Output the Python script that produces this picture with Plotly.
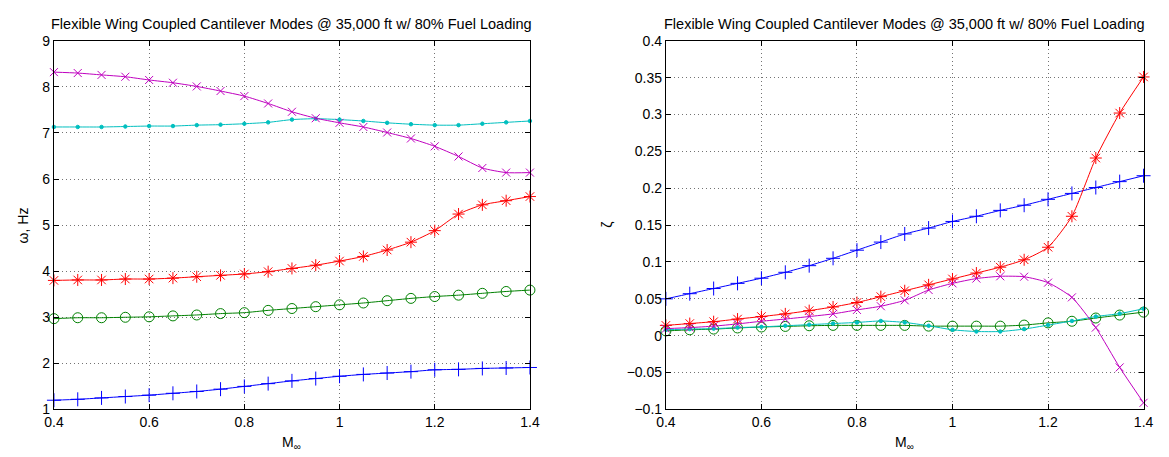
import plotly.graph_objects as go

# Mach numbers
mach = [0.40, 0.45, 0.50, 0.55, 0.60, 0.65, 0.70, 0.75, 0.80, 0.85, 0.90,
        0.95, 1.00, 1.05, 1.10, 1.15, 1.20, 1.25, 1.30, 1.35, 1.40]

# Modal frequencies, Hz
freq_mode1 = [1.20, 1.22, 1.25, 1.28, 1.31, 1.35, 1.39, 1.44, 1.50, 1.56, 1.62,
              1.67, 1.72, 1.76, 1.79, 1.82, 1.86, 1.87, 1.89, 1.90, 1.91]
freq_mode2 = [2.97, 2.99, 2.99, 3.00, 3.01, 3.03, 3.05, 3.08, 3.10, 3.15, 3.19,
              3.23, 3.27, 3.31, 3.36, 3.41, 3.45, 3.48, 3.52, 3.56, 3.59]
freq_mode3 = [3.80, 3.81, 3.81, 3.83, 3.83, 3.85, 3.88, 3.91, 3.94, 3.99, 4.06,
              4.13, 4.22, 4.32, 4.46, 4.63, 4.88, 5.24, 5.44, 5.53, 5.62]
freq_mode4 = [7.13, 7.13, 7.13, 7.14, 7.15, 7.15, 7.17, 7.18, 7.20, 7.23, 7.29,
              7.31, 7.29, 7.26, 7.22, 7.19, 7.17, 7.17, 7.20, 7.23, 7.26]
freq_mode5 = [8.32, 8.30, 8.26, 8.22, 8.15, 8.09, 8.01, 7.91, 7.80, 7.64, 7.46,
              7.32, 7.22, 7.13, 7.01, 6.88, 6.71, 6.49, 6.24, 6.14, 6.14]

# Modal damping ratios
damp_mode1 = [0.050, 0.057, 0.064, 0.071, 0.078, 0.086, 0.095, 0.105, 0.116, 0.127, 0.138,
              0.146, 0.155, 0.162, 0.170, 0.177, 0.185, 0.193, 0.201, 0.209, 0.217]
damp_mode2 = [0.0065, 0.008, 0.009, 0.0105, 0.0118, 0.0126, 0.0135, 0.014, 0.014, 0.014, 0.014,
              0.013, 0.013, 0.013, 0.013, 0.0144, 0.0174, 0.0196, 0.024, 0.028, 0.032]
damp_mode3 = [0.014, 0.0165, 0.019, 0.0226, 0.026, 0.0296, 0.034, 0.039, 0.045, 0.053, 0.061,
              0.069, 0.077, 0.085, 0.093, 0.103, 0.120, 0.162, 0.241, 0.302, 0.351]
damp_mode4 = [0.008, 0.009, 0.0096, 0.011, 0.012, 0.0135, 0.015, 0.0165, 0.018, 0.020, 0.018,
              0.0135, 0.008, 0.0057, 0.0057, 0.009, 0.0144, 0.020, 0.026, 0.030, 0.0366]
damp_mode5 = [0.0096, 0.011, 0.013, 0.016, 0.0196, 0.0226, 0.026, 0.0296, 0.035, 0.040, 0.048,
              0.062, 0.071, 0.0775, 0.0806, 0.080, 0.072, 0.052, 0.011, -0.043, -0.091]

x_tickvals = [0.4, 0.6, 0.8, 1.0, 1.2, 1.4]
x_ticktext = ["0.4", "0.6", "0.8", "1", "1.2", "1.4"]
freq_tickvals = [1, 2, 3, 4, 5, 6, 7, 8, 9]
freq_ticktext = ["1", "2", "3", "4", "5", "6", "7", "8", "9"]
damp_tickvals = [-0.1, -0.05, 0, 0.05, 0.1, 0.15, 0.2, 0.25, 0.3, 0.35, 0.4]
damp_ticktext = ["\u22120.1", "\u22120.05", "0", "0.05", "0.1", "0.15", "0.2",
                 "0.25", "0.3", "0.35", "0.4"]

title_text = "Flexible Wing Coupled Cantilever Modes @ 35,000 ft w/ 80% Fuel Loading"

# MATLAB-style line colours and markers
styles = [
    dict(color="#0000FF", symbol="cross-thin-open", size=10),
    dict(color="#008000", symbol="circle-open", size=10),
    dict(color="#FF0000", symbol="asterisk-open", size=10),
    dict(color="#00BFBF", symbol="circle", size=3.5),
    dict(color="#BF00BF", symbol="x-thin-open", size=8),
]

freq_series = [freq_mode1, freq_mode2, freq_mode3, freq_mode4, freq_mode5]
damp_series = [damp_mode1, damp_mode2, damp_mode3, damp_mode4, damp_mode5]

FONT = "Liberation Sans, Arial, Helvetica, sans-serif"
TICK_SIZE = 14
TITLE_SIZE = 14.5
W, H = 1169, 457

fig = go.Figure()

for ys, st in zip(freq_series, styles):
    fig.add_trace(go.Scatter(
        x=mach, y=ys, mode="lines+markers", xaxis="x", yaxis="y",
        line=dict(color=st["color"], width=1, shape="spline", smoothing=0.6),
        marker=dict(symbol=st["symbol"], size=st["size"], color=st["color"],
                    line=dict(color=st["color"], width=1)),
        cliponaxis=False, showlegend=False, hoverinfo="skip"))

for ys, st in zip(damp_series, styles):
    fig.add_trace(go.Scatter(
        x=mach, y=ys, mode="lines+markers", xaxis="x2", yaxis="y2",
        line=dict(color=st["color"], width=1, shape="spline", smoothing=0.6),
        marker=dict(symbol=st["symbol"], size=st["size"], color=st["color"],
                    line=dict(color=st["color"], width=1)),
        cliponaxis=False, showlegend=False, hoverinfo="skip"))

# Axes placement in pixels
L1, R1 = 44.7, 529.0
L2, R2 = 667.3, 1153.3
TOP, BOT = 34.0, 416.0


def px_x(p):
    return p / W


def px_y(p):
    return 1 - p / H


common_axis = dict(
    showline=True, linecolor="black", linewidth=1, mirror="ticks",
    ticks="inside", ticklen=5, tickwidth=1, tickcolor="black",
    showgrid=True, gridcolor="rgba(0,0,0,0.55)", gridwidth=1, griddash="1px,3px",
    zeroline=False, tickfont=dict(family=FONT, size=TICK_SIZE, color="black"),
    fixedrange=True,
)

fig.update_layout(
    width=W, height=H,
    margin=dict(l=0, r=0, t=0, b=0),
    paper_bgcolor="white", plot_bgcolor="white",
    font=dict(family=FONT, size=TICK_SIZE, color="black"),
    xaxis=dict(common_axis, domain=[px_x(L1), px_x(R1)], range=[0.4, 1.4],
               tickvals=x_tickvals, ticktext=x_ticktext, anchor="y"),
    yaxis=dict(common_axis, domain=[px_y(BOT), px_y(TOP)], range=[1, 9],
               tickvals=freq_tickvals, ticktext=freq_ticktext, anchor="x"),
    xaxis2=dict(common_axis, domain=[px_x(L2), px_x(R2)], range=[0.4, 1.4],
                tickvals=x_tickvals, ticktext=x_ticktext, anchor="y2"),
    yaxis2=dict(common_axis, domain=[px_y(BOT), px_y(TOP)], range=[-0.1, 0.4],
                tickvals=damp_tickvals, ticktext=damp_ticktext, anchor="x2"),
)

annots = []
for (l, r) in [(L1, R1), (L2, R2)]:
    cx = (l + r) / 2
    annots.append(dict(text=title_text, x=px_x(cx), y=px_y(17), xref="paper", yref="paper",
                       xanchor="center", yanchor="middle", showarrow=False,
                       font=dict(family=FONT, size=TITLE_SIZE, color="black")))
    annots.append(dict(text="M<sub>\u221e</sub>", x=px_x(cx), y=px_y(451), xref="paper",
                       yref="paper", xanchor="center", yanchor="middle", showarrow=False,
                       font=dict(family=FONT, size=TICK_SIZE, color="black")))

annots.append(dict(text="\u03c9, Hz", x=px_x(13.5), y=px_y((TOP + BOT) / 2), xref="paper",
                   yref="paper", xanchor="center", yanchor="middle", textangle=-90,
                   showarrow=False, font=dict(family=FONT, size=TICK_SIZE, color="black")))
annots.append(dict(text="\u03b6", x=px_x(608), y=px_y((TOP + BOT) / 2), xref="paper",
                   yref="paper", xanchor="center", yanchor="middle", textangle=-90,
                   showarrow=False, font=dict(family=FONT, size=TICK_SIZE, color="black")))

fig.update_layout(annotations=annots)

fig.write_html("out.html")
